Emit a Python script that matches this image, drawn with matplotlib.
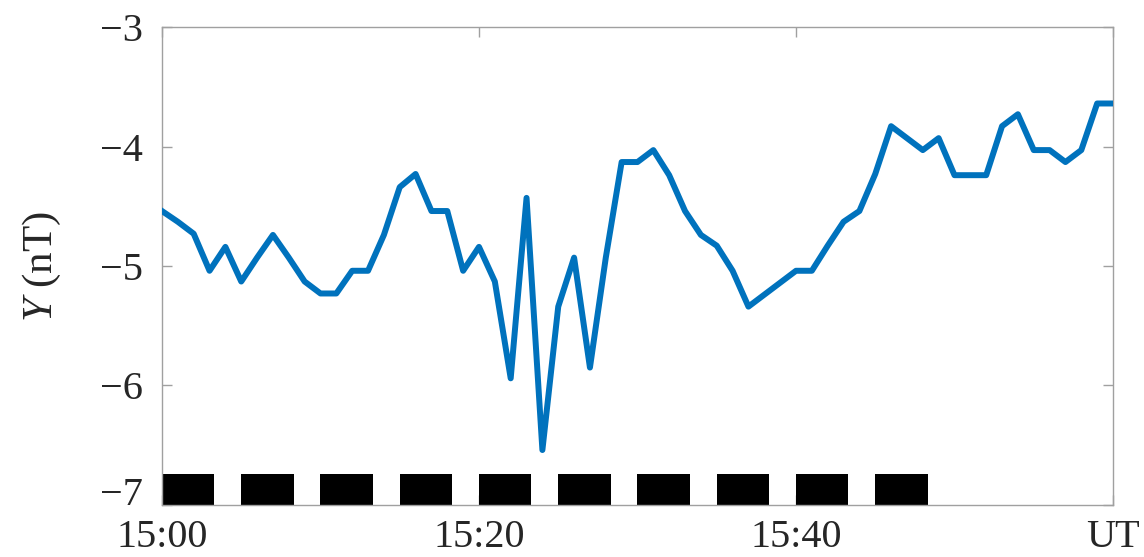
import matplotlib.pyplot as plt
import matplotlib.transforms as mtransforms

# minutes after 15:00 UT, one sample per minute
minutes = list(range(61))
y_nt = [-4.54, -4.63, -4.73, -5.04, -4.84, -5.13, -4.93, -4.74, -4.93, -5.13,
        -5.23, -5.23, -5.04, -5.04, -4.74, -4.34, -4.23, -4.54, -4.54, -5.04,
        -4.84, -5.13, -5.94, -4.43, -6.54, -5.34, -4.93, -5.85, -4.93, -4.13,
        -4.13, -4.03, -4.24, -4.54, -4.74, -4.83, -5.04, -5.34, -5.24, -5.14,
        -5.04, -5.04, -4.83, -4.63, -4.54, -4.23, -3.83, -3.93, -4.03, -3.93,
        -4.24, -4.24, -4.24, -3.83, -3.73, -4.03, -4.03, -4.13, -4.03, -3.64,
        -3.64]

# black blocks along the bottom (start minute, length in minutes)
block_starts = [0, 5, 10, 15, 20, 25, 30, 35, 40, 45]
block_len = 3.3

xtick_pos = [0, 20, 40, 60]
xtick_labels = ["15:00", "15:20", "15:40", "UT"]
ytick_pos = [-7, -6, -5, -4, -3]


def main():
    plt.rcParams['font.family'] = ['Liberation Serif', 'DejaVu Serif']
    plt.rcParams['mathtext.fontset'] = 'custom'
    plt.rcParams['mathtext.it'] = 'Liberation Serif:italic'
    plt.rcParams['mathtext.rm'] = 'Liberation Serif'

    fig = plt.figure(figsize=(11.44, 5.57), dpi=100)
    ax = fig.add_axes([0.1416, 0.0934, 0.8313, 0.8581])

    ax.bar(block_starts, [0.26] * len(block_starts), width=block_len,
           bottom=-7, align='edge', color='black', zorder=2)
    ax.plot(minutes, y_nt, color='#0072BD', linewidth=4.3,
            solid_joinstyle='round', zorder=3)

    ax.set_xlim(0, 60)
    ax.set_ylim(-7, -3)
    ax.set_xticks(xtick_pos)
    ax.set_xticklabels(xtick_labels)
    ax.set_yticks(ytick_pos)
    ax.set_yticklabels([f"\u2212{abs(v)}" for v in ytick_pos])

    for side in ax.spines.values():
        side.set_color('#a0a0a0')
        side.set_linewidth(1.0)
    ax.tick_params(direction='in', length=7, width=1.0, color='#a0a0a0',
                   labelsize=29, labelcolor='#262626',
                   top=True, right=True)
    ax.tick_params(axis='x', pad=10)
    ax.tick_params(axis='y', pad=14)

    # lift the bottom y label so it clears 15:00
    lbl = ax.get_yticklabels()[0]
    lbl.set_transform(lbl.get_transform() +
                      mtransforms.ScaledTranslation(0, 0.14, fig.dpi_scale_trans))

    ax.set_ylabel(r"$Y$ (nT)", fontsize=31, color='#262626', labelpad=26)

    fig.savefig("out.png", dpi=100)


if __name__ == "__main__":
    main()
